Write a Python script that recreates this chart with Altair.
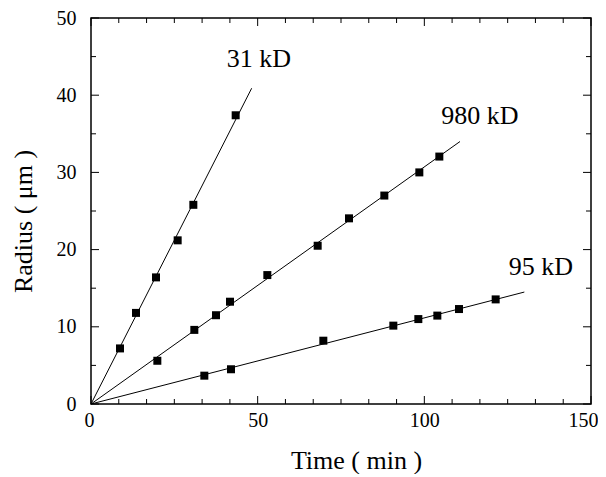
import altair as alt
import pandas as pd

# ---- data ----
t31 = [8.7, 13.5, 19.5, 26.0, 30.7, 43.4]
r31 = [7.2, 11.8, 16.4, 21.2, 25.8, 37.4]

t980 = [19.9, 31.0, 37.5, 41.7, 52.9, 68.0, 77.4, 88.0, 98.5, 104.5]
r980 = [5.6, 9.6, 11.5, 13.25, 16.7, 20.5, 24.05, 27.0, 30.0, 32.05]

t95 = [34.0, 42.0, 69.7, 90.7, 98.2, 103.9, 110.4, 121.4]
r95 = [3.67, 4.5, 8.2, 10.15, 11.0, 11.45, 12.3, 13.55]

# fitted lines (start, end)
fit_names = ["31 kD", "31 kD", "980 kD", "980 kD", "95 kD", "95 kD"]
fit_t = [0, 48.2, 0, 110.7, 0, 130.0]
fit_r = [0, 40.9, 0, 34.0, 0, 14.5]

label_text = ["31 kD", "980 kD", "95 kD"]
label_t = [50.4, 116.7, 135.0]
label_r = [44.7, 37.3, 17.7]

x_major = [0, 50, 100, 150]
x_minor = [8.33, 16.67, 25, 33.33, 41.67, 58.33, 66.67, 75, 83.33, 91.67,
           108.33, 116.67, 125, 133.33, 141.67]
y_major = [0, 10, 20, 30, 40, 50]
y_minor = [5, 15, 25, 35, 45]

W, H = 500, 386
FONT = "Liberation Serif"

pts = pd.DataFrame({
    "t": t31 + t980 + t95,
    "r": r31 + r980 + r95,
    "s": ["31 kD"] * len(t31) + ["980 kD"] * len(t980) + ["95 kD"] * len(t95),
})
fits = pd.DataFrame({"s": fit_names, "t": fit_t, "r": fit_r})
labels = pd.DataFrame({"s": label_text, "t": label_t, "r": label_r})

xs = alt.Scale(domain=[0, 150], nice=False, zero=False)
ys = alt.Scale(domain=[0, 50], nice=False, zero=False)

xaxis = alt.Axis(values=x_major, ticks=False, tickSize=0, domain=False, grid=False,
                 labelFlush=True, labelFlushOffset=7, labelOverlap=False,
                 labelFont=FONT, labelFontSize=20, labelColor="black", labelPadding=6,
                 title="Time ( min )", titleFont=FONT, titleFontSize=26,
                 titleFontWeight="normal", titleColor="black", titlePadding=17,
                 titleX=265)
yaxis = alt.Axis(values=y_major, ticks=False, tickSize=0, domain=False, grid=False,
                 labelFlush=False, labelOverlap=False,
                 labelFont=FONT, labelFontSize=20, labelColor="black", labelPadding=15,
                 title="Radius ( μm )", titleFont=FONT, titleFontSize=26,
                 titleFontWeight="normal", titleColor="black", titlePadding=20,
                 titleY=203)

lines = alt.Chart(fits).mark_line(color="black", strokeWidth=1).encode(
    x=alt.X("t:Q", scale=xs, axis=xaxis),
    y=alt.Y("r:Q", scale=ys, axis=yaxis),
    detail="s:N",
)

squares = alt.Chart(pts).mark_square(size=64, color="black", opacity=1).encode(
    x=alt.X("t:Q", scale=xs),
    y=alt.Y("r:Q", scale=ys),
)

texts = alt.Chart(labels).mark_text(font=FONT, fontSize=26, color="black",
                                    align="center", baseline="middle").encode(
    x=alt.X("t:Q", scale=xs),
    y=alt.Y("r:Q", scale=ys),
    text="s:N",
)


def xticks(vals, length):
    df = pd.DataFrame({"t": vals})
    bot = alt.Chart(df).mark_rule(color="black", strokeWidth=1).encode(
        x=alt.X("t:Q", scale=xs), y=alt.value(H), y2=alt.value(H - length))
    top = alt.Chart(df).mark_rule(color="black", strokeWidth=1).encode(
        x=alt.X("t:Q", scale=xs), y=alt.value(0), y2=alt.value(length))
    return [bot, top]


def yticks(vals, length):
    df = pd.DataFrame({"r": vals})
    left = alt.Chart(df).mark_rule(color="black", strokeWidth=1).encode(
        y=alt.Y("r:Q", scale=ys), x=alt.value(0), x2=alt.value(length))
    right = alt.Chart(df).mark_rule(color="black", strokeWidth=1).encode(
        y=alt.Y("r:Q", scale=ys), x=alt.value(W), x2=alt.value(W - length))
    return [left, right]


layers = [lines, squares, texts]
layers += xticks(x_major, 8) + xticks(x_minor, 5)
layers += yticks(y_major, 8) + yticks(y_minor, 5)

chart = alt.layer(*layers).properties(
    width=W, height=H,
    autosize=alt.AutoSizeParams(type="none"),
    padding={"left": 83, "top": 10, "right": 7, "bottom": 70},
    background="white",
).configure_view(stroke="black", strokeWidth=1.5)

chart.save("out.html", embed_options={"renderer": "svg", "actions": False})
